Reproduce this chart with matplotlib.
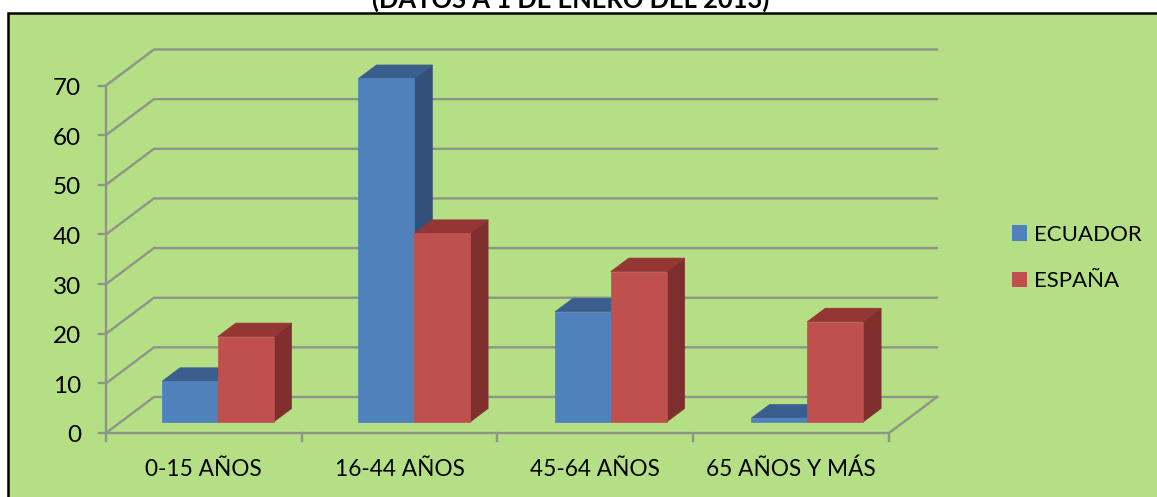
import matplotlib
matplotlib.use('Agg')
import matplotlib.pyplot as plt
from matplotlib.patches import Polygon, Patch, Rectangle

categories = ['0-15 AÑOS', '16-44 AÑOS', '45-64 AÑOS', '65 AÑOS Y MÁS']
ecuador = [8.2, 69.2, 22.2, 0.8]
espana = [17.2, 38.0, 30.3, 20.2]
yticks = [0, 10, 20, 30, 40, 50, 60, 70]

W, H = 1157, 497
x0_px, x4_px = 106, 889
y0_px, y70_px = 433, 85.5
# px to data scales
sx = 4 / (x4_px - x0_px)
sy = 70 / (y0_px - y70_px)

GREEN = '#b5df85'
GRID = '#8e9488'
BLUE = ('#4f81bd', '#3a5f8e', '#325079')
RED = ('#c0504d', '#943634', '#7f302e')

fig = plt.figure(figsize=(W / 100, H / 100), dpi=100, facecolor='white')
ax = fig.add_axes([0, 0, 1, 1])
ax.set_xlim(-x0_px * sx, (W - x0_px) * sx)
ax.set_ylim(-(H - y0_px) * sy, y0_px * sy)
ax.axis('off')
plt.rcParams['font.family'] = 'Lato'

# green panel, black frame only shows on the left and top
ax.add_patch(Rectangle(((8 - x0_px) * sx, -(H + 20 - y0_px) * sy), (W + 30) * sx, (H + 20 - 13) * sy,
                       fc=GREEN, ec='black', lw=1.8, zorder=0, clip_on=True))

ax.text((571 - x0_px) * sx, (y0_px + 1) * sy, '(DATOS A 1 DE ENERO DEL 2013)', family='Lato',
        fontsize=18.4, fontweight='bold', ha='center', va='center', color='black', zorder=1)

# walls
depth_x = 48 * sx
depth_y = 36 * sy
for v in yticks:
    ax.plot([0, depth_x, 4 + depth_x], [v, v + depth_y, v + depth_y], color=GRID, lw=1.7, zorder=2,
            solid_joinstyle='miter')
    ax.plot([-7 * sx, 0], [v, v], color=GRID, lw=1.7, zorder=2)
    ax.text(-25 * sx, v - 0.6, str(v), fontsize=17.5, ha='right', va='center', color='black', family='Lato')
ax.plot([0, 0], [0, yticks[-1]], color=GRID, lw=1.7, zorder=2)
ax.plot([0, 4, 4 + depth_x], [0, 0, depth_y], color=GRID, lw=1.7, zorder=2)
for i in range(5):
    ax.plot([i, i], [0, -8 * sy], color=GRID, lw=1.7, zorder=2)

# 3d bars
bw = 55.8 * sx
bar_off = 56 * sx
bar_step = 196.5 * sx
base = 11 * sy
dx = 18 * sx
dy = 13.5 * sy


def bar3d(x, v, cols, z):
    top = base + v
    ax.add_patch(Polygon([(x, base), (x + bw, base), (x + bw, top), (x, top)], fc=cols[0], ec=cols[0], lw=0.5, zorder=z + 0.2))
    ax.add_patch(Polygon([(x, top), (x + bw, top), (x + bw + dx, top + dy), (x + dx, top + dy)], fc=cols[1], ec=cols[1], lw=0.5, zorder=z + 0.1))
    ax.add_patch(Polygon([(x + bw, base), (x + bw + dx, base + dy), (x + bw + dx, top + dy), (x + bw, top)], fc=cols[2], ec=cols[2], lw=0.5, zorder=z))


for i, name in enumerate(categories):
    bar3d(i * bar_step + bar_off, ecuador[i], BLUE, 3)
    bar3d(i * bar_step + bar_off + bw, espana[i], RED, 4)
    ax.text(i + 0.5, -(469 - y0_px) * sy, name, fontsize=16.3, ha='center', va='center', color='black', family='Lato')

handles = [Patch(fc=BLUE[0], ec='none', label='ECUADOR'), Patch(fc=RED[0], ec='none', label='ESPAÑA')]
ax.legend(handles=handles, loc='center left', bbox_to_anchor=(992 / W, 1 - 258 / H), frameon=False,
          prop={'family': 'Lato', 'size': 16}, handlelength=0.68, handleheight=0.68, handletextpad=0.32,
          labelspacing=1.2, labelcolor='black')

fig.savefig('out.png', dpi=100)
